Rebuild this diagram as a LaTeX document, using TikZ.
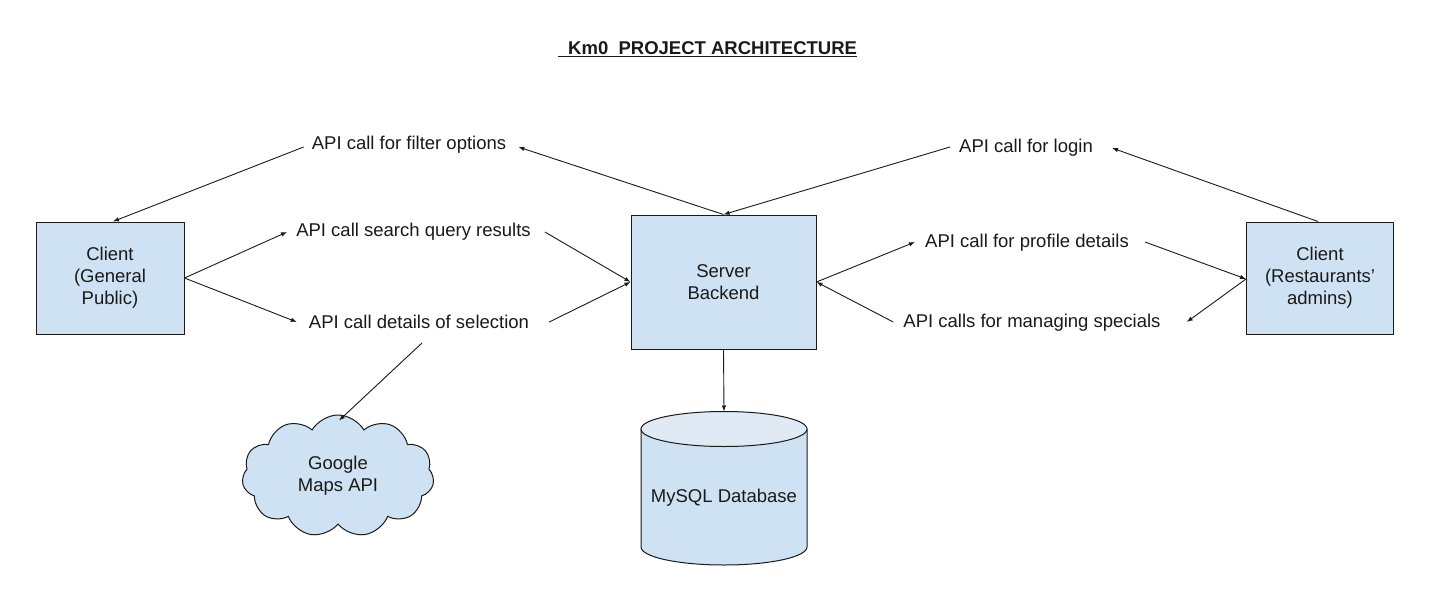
\documentclass[tikz,border=0pt]{standalone}
\usepackage{fontspec}
\setmainfont{Liberation Sans}
\usetikzlibrary{shapes.symbols,arrows.meta,calc}
\definecolor{boxblue}{HTML}{CFE2F3}
\definecolor{topblue}{HTML}{DFEAF5}
\definecolor{ink}{HTML}{1A1A1A}
\begin{document}
\begin{tikzpicture}[x=1pt,y=-1pt,
  every node/.style={font=\fontsize{18.5}{22}\selectfont, text=ink},
  blk/.style={draw=ink, line width=1pt, fill=boxblue, align=center, inner sep=0pt},
  lbl/.style={inner sep=0pt},
  conn/.style={draw=ink, line width=0.9pt, -{Latex[length=6pt,width=4.5pt]}}]
\useasboundingbox (0,0) rectangle (1436,592);
\fill[white] (0,0) rectangle (1436,592);

% title
\node[font=\fontsize{18.5}{22}\selectfont\bfseries] (title) at (707.5,49) {\underline{\ \ Km0\ \ PROJECT ARCHITECTURE}};

% boxes
\node[blk, minimum width=148pt, minimum height=112pt] (gp) at (110,278) {Client\\(General\\Public)};
\node[blk, minimum width=185pt, minimum height=134pt] (srv) at (723.5,282) {Server\\Backend};
\node[blk, minimum width=147pt, minimum height=112pt] (rc) at (1320,278) {Client\\(Restaurants'\\admins)};

% cloud
\node[cloud, draw=ink, fill=boxblue, line width=1pt, cloud puffs=11, cloud puff arc=120,
      aspect=1.6, minimum width=192pt, minimum height=122pt, align=center, inner sep=0pt]
      (gm) at (338,476) {Google\\Maps API};

% database cylinder
\fill[boxblue] (641,429) rectangle (807,547);
\fill[boxblue] (724,547) ellipse [x radius=83, y radius=18];
\draw[ink, line width=1pt] (641,429) -- (641,547) arc[start angle=180, end angle=0, x radius=83, y radius=18] -- (807,429);
\filldraw[fill=topblue, draw=ink, line width=1pt] (724,429) ellipse [x radius=83, y radius=17.5];
\coordinate (dbtop) at (724,411.5);
\node (db) at (724,498) {MySQL Database};

% labels
\node[lbl] (filt) at (409,145) {API call for filter options};
\node[lbl] (srch) at (413.5,232) {API call search query results};
\node[lbl] (det) at (419,322) {API call details of selection};
\node[lbl] (login) at (1026,148) {API call for login};
\node[lbl] (prof) at (1027,243) {API call for profile details};
\node[lbl] (mng) at (1032,323) {API calls for managing specials};

% connectors
\draw[conn] ($(filt.west)+(-8,2)$) -- ($(gp.north)+(3,0)$);
\draw[conn] (srv.north) -- ($(filt.east)+(12,2)$);
\draw[conn] (gp.east) -- ($(srch.west)+(-9,0)$);
\draw[conn] ($(srch.east)+(14,0)$) -- (srv.west);
\draw[conn] (gp.east) -- ($(det.west)+(-12,0)$);
\draw[conn] ($(det.east)+(20,0)$) -- (srv.west);
\draw[conn] ($(det.south)+(3,14)$) -- ($(gm.north)+(1,6)$);
\draw[conn] (srv.south) -- (dbtop);
\draw[conn] ($(login.west)+(-9,-1)$) -- (srv.north);
\draw[conn] ($(rc.north)+(-2,0)$) -- ($(login.east)+(19,0)$);
\draw[conn] (srv.east) -- ($(prof.west)+(-10,-1)$);
\draw[conn] ($(prof.east)+(16,-1)$) -- ($(rc.west)+(0,1)$);
\draw[conn] ($(rc.west)+(0,1)$) -- ($(mng.east)+(26,-1)$);
\draw[conn] ($(mng.west)+(-10,-1)$) -- (srv.east);
\end{tikzpicture}
\end{document}
